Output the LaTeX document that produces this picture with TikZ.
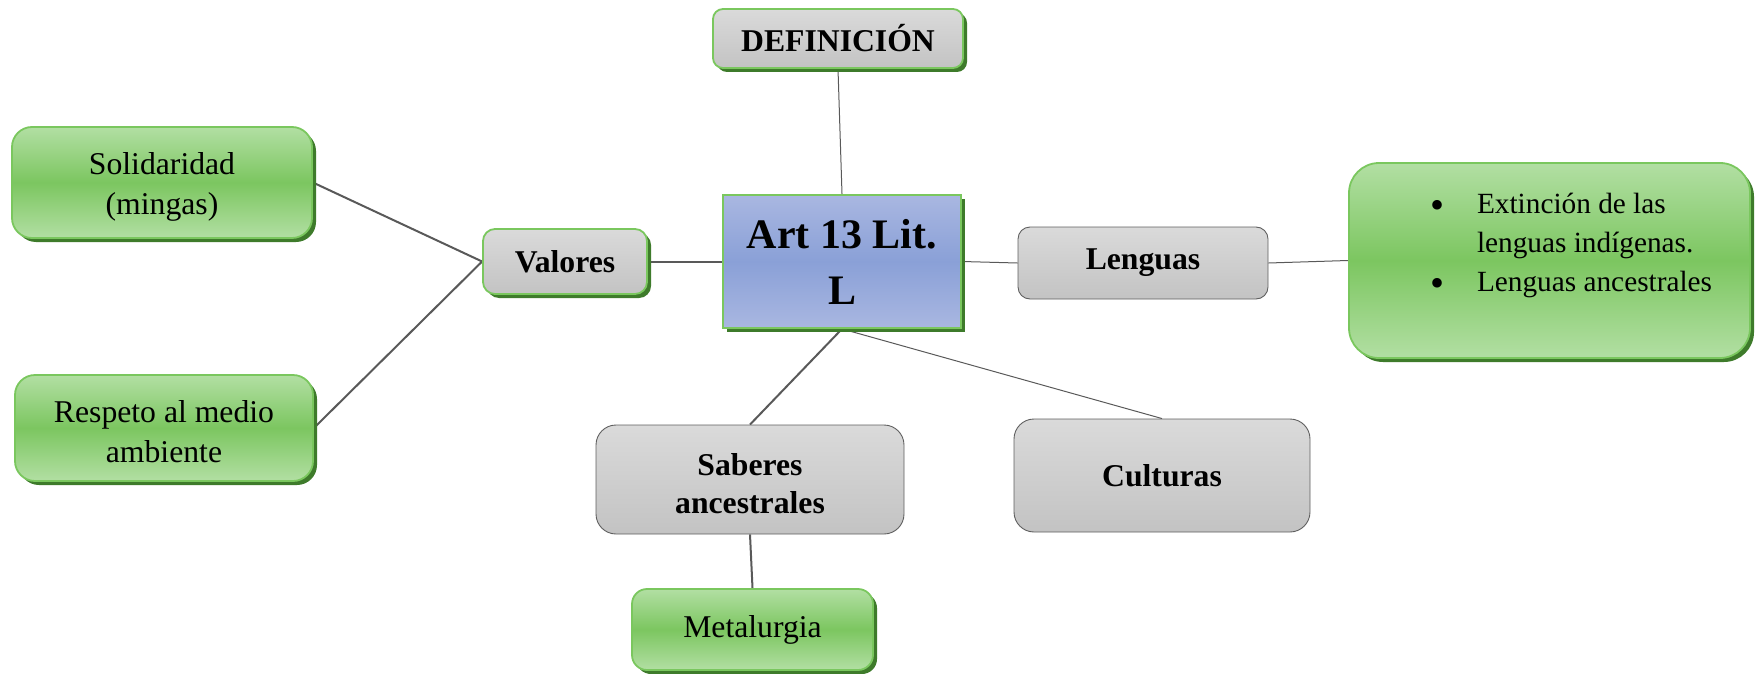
\documentclass[tikz,border=0pt]{standalone}
\usepackage{fontspec}
\setmainfont{Liberation Serif}
\usetikzlibrary{shadows,backgrounds}
\definecolor{glight}{HTML}{B2DFA3}
\definecolor{gmid}{HTML}{7CC660}
\definecolor{gborder}{HTML}{7AC75E}
\definecolor{gshadow}{HTML}{3E7B2B}
\definecolor{grtop}{HTML}{DADADA}
\definecolor{grbot}{HTML}{C3C3C3}
\definecolor{grborder}{HTML}{5F5F5F}
\definecolor{blight}{HTML}{A9B7E1}
\definecolor{bmid}{HTML}{8AA0D7}
\definecolor{linec}{HTML}{595959}
\newcommand{\bigbul}{\raisebox{-5pt}{\fontsize{40}{0}\selectfont\textbullet}}
\begin{document}
\begin{tikzpicture}[x=1pt,y=-1pt,
  basebox/.style={inner sep=0pt, font=\fontsize{31.7}{40}\selectfont},
  gshad/.style={drop shadow={shadow xshift=4pt,shadow yshift=-4pt,fill=gshadow,opacity=1}},
  greenbox/.style={basebox, gshad, draw=gborder, line width=1.8pt, top color=glight, bottom color=glight, middle color=gmid},
  graygreen/.style={basebox, gshad, draw=gborder, line width=1.8pt, top color=grtop, bottom color=grbot, font=\bfseries\fontsize{31.7}{40}\selectfont},
  graybox/.style={basebox, draw=grborder, line width=0.9pt, top color=grtop, bottom color=grbot, font=\bfseries\fontsize{31.7}{38}\selectfont},
  thicklink/.style={draw=linec, line width=2pt},
  thinlink/.style={draw=linec, line width=1pt}]
\useasboundingbox (0,0) rectangle (1760,674);

\node[graygreen, rounded corners=10pt, minimum width=250pt, minimum height=59pt] (defn) at (838,38.5) {DEFINICIÓN};
\node[basebox, gshad, draw=gborder, line width=1.8pt, top color=blight, bottom color=blight, middle color=bmid, minimum width=238pt, minimum height=133pt, align=center, font=\bfseries\fontsize{42}{56}\selectfont] (art) at (842,261.5) {Art 13 Lit.\\L};
\node[greenbox, rounded corners=20pt, minimum width=300pt, minimum height=111pt, align=center] (sol) at (162,182.5) {\rule{0pt}{30pt}Solidaridad\\(mingas)};
\node[greenbox, rounded corners=20pt, minimum width=298pt, minimum height=106pt, align=center] (resp) at (164,428) {\rule{0pt}{30pt}Respeto al medio\\ambiente};
\node[graygreen, rounded corners=12pt, minimum width=164pt, minimum height=65pt] (val) at (565,261.5) {Valores};
\node[graybox, rounded corners=12pt, minimum width=250pt, minimum height=72pt] (leng) at (1143,263) {Lenguas};
\node[greenbox, rounded corners=30pt, minimum width=401pt, minimum height=195pt] (ext) at (1549.5,260.5)
  {\parbox[c][135pt][t]{401pt}{\fontsize{29.3}{39}\selectfont\raggedright
   \hspace*{81pt}\makebox[47pt][l]{\bigbul}Extinción de las\\
   \hspace*{128pt}lenguas indígenas.\\
   \hspace*{81pt}\makebox[47pt][l]{\bigbul}Lenguas ancestrales}};
\node[graybox, rounded corners=20pt, minimum width=308pt, minimum height=109pt, align=center] (sab) at (750,479.5) {\rule{0pt}{30pt}Saberes\\ancestrales};
\node[graybox, rounded corners=20pt, minimum width=296pt, minimum height=113pt] (cult) at (1162,475.5) {Culturas};
\node[greenbox, rounded corners=15pt, minimum width=241pt, minimum height=81pt] (met) at (752.5,629.5) {Metalurgia};

\begin{scope}[on background layer]
\draw[thinlink] (defn.south) -- (art.north);
\draw[thicklink] (val.west) -- (sol.east);
\draw[thicklink] (val.west) -- (resp.east);
\draw[thicklink] (val.east) -- (art.west);
\draw[thinlink] (art.east) -- (leng.west);
\draw[thinlink] (leng.east) -- (ext.west);
\draw[thicklink] (art.south) -- (sab.north);
\draw[thinlink] (art.south) -- (cult.north);
\draw[thicklink] (sab.south) -- (met.north);
\end{scope}
\end{tikzpicture}
\end{document}
